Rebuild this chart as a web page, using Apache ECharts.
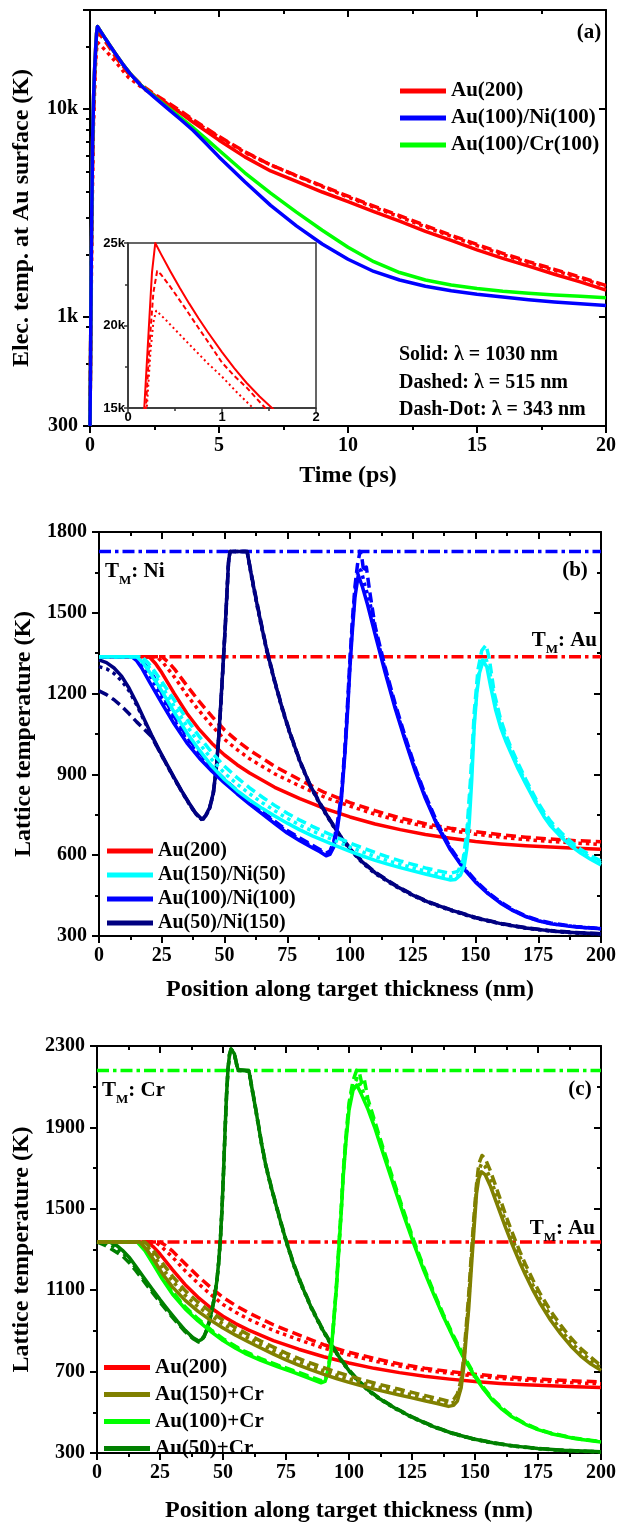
<!DOCTYPE html>
<html><head><meta charset="utf-8">
<script src="https://cdn.jsdelivr.net/npm/echarts@6/dist/echarts.min.js"></script>
<style>html,body{margin:0;padding:0;background:#fff}#c{width:619px;height:1524px}</style>
</head><body><div id="c"></div><script>
// ---------------- Panel (a): electron temperature at Au surface vs time (ps, K) ----------------
const a_au200_1030 = [[0,300],[0.02,600],[0.05,2000],[0.1,7000],[0.14,11500],[0.173,15000],[0.22,19700],[0.255,23200],[0.29,25000],[0.35,24340],[0.45,23290],[0.55,22290],[0.65,21340],[0.75,20440],[0.85,19590],[1.0,18390],[1.13,17420],[1.26,16530],[1.4,15700],[1.56,14850],[1.75,13950],[2,12950],[2.5,11650],[3,10600],[3.5,9600],[4,8650],[5,7100],[6,5900],[7,5050],[8,4500],[9,4000],[10,3600],[11,3220],[12,2900],[13,2590],[14,2340],[15,2110],[16,1920],[17,1760],[18,1610],[19,1480],[20,1350]];
const a_au200_515 = [[0,300],[0.03,900],[0.07,3000],[0.12,8000],[0.19,15000],[0.23,19000],[0.27,22000],[0.31,23300],[0.35,23100],[0.45,22350],[0.56,21450],[0.65,20700],[0.75,19850],[0.85,19020],[1.0,17750],[1.13,16950],[1.26,16250],[1.46,15000],[1.75,14000],[2,13050],[2.5,11800],[3,10800],[3.5,9850],[4,8900],[5,7400],[6,6250],[7,5400],[8,4800],[9,4280],[10,3820],[11,3420],[12,3080],[13,2760],[14,2480],[15,2240],[16,2030],[17,1850],[18,1700],[19,1560],[20,1420]];
const a_au200_343 = [[0,300],[0.03,800],[0.08,3000],[0.13,8000],[0.2,15000],[0.24,18500],[0.27,20200],[0.3,20900],[0.4,20350],[0.56,19400],[0.73,18400],[0.85,17700],[1.0,16900],[1.15,16000],[1.33,15000],[1.5,14200],[1.75,13450],[2,12750],[2.5,11600],[3,10650],[3.5,9700],[4,8780],[5,7350],[6,6200],[7,5400],[8,4780],[9,4250],[10,3780],[11,3380],[12,3040],[13,2720],[14,2450],[15,2210],[16,2000],[17,1830],[18,1680],[19,1540],[20,1410]];
const a_auNi_1030 = [[0,300],[0.02,600],[0.05,2000],[0.1,7000],[0.14,11500],[0.173,15000],[0.22,19700],[0.255,23200],[0.29,25000],[0.35,24340],[0.45,23290],[0.55,22290],[0.65,21340],[0.75,20440],[0.85,19590],[1.0,18390],[1.26,16530],[1.56,14800],[2,12900],[2.5,11400],[3,10100],[3.5,8950],[4,7900],[4.5,6850],[5,5900],[6,4480],[7,3450],[8,2750],[9,2250],[10,1900],[11,1660],[12,1510],[13,1410],[14,1340],[15,1290],[16,1250],[17,1215],[18,1185],[19,1160],[20,1140]];
const a_auCr_1030 = [[0,300],[0.02,600],[0.05,2000],[0.1,7000],[0.14,11500],[0.173,15000],[0.22,19700],[0.255,23200],[0.29,25000],[0.35,24340],[0.45,23290],[0.55,22290],[0.65,21340],[0.75,20440],[0.85,19590],[1.0,18390],[1.26,16530],[1.56,14820],[2,12950],[2.5,11500],[3,10250],[3.5,9150],[4,8150],[4.5,7200],[5,6350],[6,4950],[7,3950],[8,3200],[9,2620],[10,2170],[11,1850],[12,1640],[13,1510],[14,1430],[15,1375],[16,1335],[17,1305],[18,1280],[19,1260],[20,1240]];
const a_yMajorLabels = {300:'300', 1000:'1k', 10000:'10k'};
const a_yMinorTicks = [600,900,2000,3000,4000,5000,6000,7000,8000,9000,20000];

// ---------------- melting temperatures (K) ----------------
const TM_AU = 1337, TM_NI = 1728, TM_CR = 2180;

// ---------------- Panels (b), (c): lattice temperature vs position (nm, K) ----------------
const au200_1030 = [[0,1337],[20,1337],[22.5,1312],[25,1278],[30,1200],[35,1127],[40,1066],[45,1015],[50,972],[55,936],[60,905],[70,852],[80,810],[90,773],[100,742],[110,716],[120,695],[130,677],[140,663],[150,651],[160,642],[170,635],[180,630],[190,626],[200,622]];
const au200_515 = [[0,1337],[25,1337],[27.5,1318],[30,1292],[35,1230],[40,1170],[45,1115],[50,1065],[55,1025],[60,990],[70,930],[80,880],[90,832],[100,795],[110,765],[120,738],[130,717],[140,700],[150,687],[160,676],[170,667],[180,660],[190,654],[200,650]];
const au200_343 = [[0,1337],[23,1337],[25.5,1315],[30,1262],[35,1195],[40,1135],[45,1080],[50,1030],[55,992],[60,958],[70,902],[80,857],[90,815],[100,782],[110,752],[120,727],[130,707],[140,692],[150,678],[160,667],[170,658],[180,651],[190,645],[200,640]];

const b_au150ni50_1030 = [[0,1337],[15,1337],[17.5,1315],[20,1282],[25,1210],[30,1130],[35,1055],[40,990],[45,930],[50,881],[55,840],[60,805],[65,774],[70,746],[75,719],[80,694],[85,672],[90,652],[95,633],[100,614],[105,597],[110,581],[115,567],[120,554],[125,542],[130,530],[135,519],[138,512],[140,508],[142,510],[144,526],[145.5,560],[146.5,620],[147.5,720],[148.5,880],[149.5,1080],[150.5,1200],[151.6,1277],[153,1320],[154.5,1300],[156,1228],[158,1140],[160,1075],[162,1025],[164,982],[167,920],[170,865],[174,795],[177.3,743],[180,708],[184,668],[188,635],[192,607],[196,584],[200,564]];
const b_au150ni50_515 = [[0,1337],[17,1337],[19.5,1315],[22,1285],[25,1245],[30,1175],[35,1105],[40,1040],[45,980],[50,930],[55,888],[60,850],[65,816],[70,785],[75,756],[80,730],[85,707],[90,686],[95,665],[100,645],[105,627],[110,610],[115,594],[120,579],[125,566],[130,553],[135,542],[140,533],[143,540],[145,580],[146.5,680],[148,880],[149.5,1130],[151,1290],[152.5,1360],[154.2,1380],[155.5,1330],[157.5,1200],[160,1105],[162,1050],[164,1003],[167,940],[170,882],[174,810],[177.3,760],[180,725],[184,685],[188,650],[192,621],[196,598],[200,578]];
const b_au150ni50_343 = [[0,1337],[16,1337],[18.5,1318],[20,1298],[25,1228],[30,1152],[35,1080],[40,1015],[45,955],[50,905],[55,864],[60,828],[65,795],[70,765],[75,737],[80,712],[85,690],[90,670],[95,650],[100,630],[105,612],[110,595],[115,580],[120,566],[125,553],[130,541],[135,530],[140,520],[143,525],[145,565],[146.5,650],[148,850],[149.5,1100],[151,1260],[152.5,1320],[154,1335],[155.5,1290],[157.5,1180],[160,1090],[162,1038],[164,993],[167,930],[170,873],[174,802],[177.3,752],[180,716],[184,676],[188,642],[192,614],[196,590],[200,571]];

const b_au100ni100_1030 = [[0,1337],[13,1337],[15,1322],[17,1295],[20,1245],[25,1165],[30,1087],[35,1017],[40,960],[45,912],[50,868],[55,828],[60,790],[65,753],[70,717],[75,682],[80,654],[85,628],[88,613],[90.5,598],[92,603],[93.5,630],[95,700],[96.5,800],[98,980],[99,1130],[100,1300],[101,1440],[102,1560],[103.3,1640],[105,1595],[107,1530],[110,1420],[114,1278],[118,1145],[122,1025],[126,912],[130,812],[135,705],[140,620],[145,553],[150,500],[155,457],[160,422],[165,394],[170,372],[175,356],[180,345],[190,333],[200,327]];
const b_au100ni100_515 = [[0,1337],[15,1337],[17,1322],[19,1300],[22,1260],[25,1200],[30,1115],[35,1040],[40,980],[45,928],[50,882],[55,840],[60,800],[65,762],[70,726],[75,692],[80,664],[85,637],[88,621],[90.5,608],[92,615],[93.5,650],[95,720],[96.5,820],[98,1000],[99,1160],[100,1330],[101,1480],[102,1600],[103,1680],[104,1728],[104.8,1700],[105.5,1650],[106.5,1670],[108,1570],[110,1450],[114,1298],[118,1162],[122,1040],[126,925],[130,824],[135,715],[140,628],[145,560],[150,506],[155,462],[160,426],[165,397],[170,375],[175,359],[180,348],[190,335],[200,328]];
const b_au100ni100_343 = [[0,1337],[14,1337],[16,1322],[18,1300],[21,1255],[25,1185],[30,1100],[35,1028],[40,970],[45,920],[50,875],[55,834],[60,795],[65,758],[70,721],[75,687],[80,659],[85,632],[88,617],[90.5,603],[92,609],[93.5,640],[95,710],[96.5,810],[98,990],[99,1145],[100,1315],[101,1460],[102,1580],[103.3,1665],[104.5,1655],[106,1600],[108,1535],[110,1435],[114,1288],[118,1153],[122,1032],[126,918],[130,818],[135,710],[140,624],[145,556],[150,503],[155,459],[160,424],[165,395],[170,373],[175,357],[180,346],[190,334],[200,327]];

const b_au50ni150_1030 = [[0,1325],[3,1315],[6,1295],[9,1265],[12,1220],[15,1165],[18,1105],[21,1045],[24,990],[27,938],[30,887],[33,838],[36,792],[38.5,757],[40.7,736],[41.5,737],[42.5,748],[44,775],[45.5,830],[46.7,920],[47.7,1040],[48.6,1175],[49.5,1320],[50.3,1450],[51,1580],[51.6,1690],[52.2,1728],[59,1728],[61,1625],[63,1530],[65,1440],[67,1355],[70,1245],[73,1145],[76,1055],[80,950],[84,862],[88,792],[92,730],[96,672],[100,624],[105,574],[110,535],[118,487],[125,452],[131,427],[140,397],[150,368],[160,346],[170,330],[180,319],[190,312],[200,308]];
const b_au50ni150_515 = [[0,1210],[3,1196],[6,1177],[9,1153],[12,1125],[15,1095],[18,1068],[21,1040],[24,987],[27,936],[30,885],[33,836],[36,790],[38.5,755],[40.7,734],[41.5,735],[42.5,746],[44,772],[45.5,826],[46.7,915],[47.7,1035],[48.6,1170],[49.5,1315],[50.3,1445],[51,1575],[51.6,1685],[52.2,1728],[59,1728],[61,1630],[63,1535],[65,1445],[67,1358],[70,1248],[73,1148],[76,1058],[80,952],[84,864],[88,794],[92,732],[96,674],[100,626],[105,576],[110,537],[118,489],[125,454],[131,428],[140,398],[150,369],[160,347],[170,331],[180,320],[190,313],[200,308]];
const b_au50ni150_343 = [[0,1300],[3,1292],[6,1275],[9,1248],[12,1210],[15,1158],[18,1100],[21,1042],[24,987],[27,935],[30,884],[33,835],[36,789],[38.5,754],[40.7,733],[41.5,734],[42.5,745],[44,772],[45.5,827],[46.7,917],[47.7,1037],[48.6,1172],[49.5,1317],[50.3,1447],[51,1577],[51.6,1688],[52.2,1728],[59,1728],[61,1620],[63,1525],[65,1436],[67,1351],[70,1242],[73,1142],[76,1052],[80,947],[84,859],[88,789],[92,727],[96,669],[100,621],[105,571],[110,532],[118,485],[125,450],[131,425],[140,395],[150,366],[160,345],[170,329],[180,318],[190,311],[200,307]];

const c_au150cr_1030 = [[0,1337],[17,1337],[20,1295],[23,1240],[26,1180],[30,1115],[35,1050],[40,997],[45,953],[50,914],[55,879],[60,847],[65,816],[70,786],[75,758],[80,732],[85,708],[90,686],[95,666],[100,647],[105,630],[110,614],[115,599],[120,585],[125,571],[130,557],[135,543],[139.5,529],[141.5,534],[143,555],[144.5,620],[145.5,720],[146.5,870],[147.5,1010],[148.5,1200],[149.5,1380],[150.6,1575],[151.5,1650],[152.5,1682],[154,1668],[156,1615],[158,1548],[160,1480],[162,1412],[164,1348],[166,1288],[168,1230],[170,1176],[173,1100],[176,1032],[180,952],[184,885],[188,826],[192,776],[196,737],[200,706]];
const c_au150cr_515 = [[0,1337],[19,1337],[22,1300],[25,1250],[28,1200],[30,1168],[35,1098],[40,1042],[45,995],[50,953],[55,916],[60,882],[65,850],[70,820],[75,791],[80,765],[85,741],[90,719],[95,698],[100,679],[105,661],[110,644],[115,628],[120,613],[125,598],[130,583],[135,568],[139.5,555],[141.5,562],[143,590],[144.5,660],[145.5,770],[146.5,920],[147.5,1080],[148.5,1270],[149.5,1450],[150.6,1620],[151.5,1720],[152.8,1762],[154,1748],[156,1690],[158,1620],[160,1548],[162,1475],[164,1408],[166,1345],[168,1285],[170,1228],[173,1150],[176,1080],[180,998],[184,928],[188,866],[192,813],[196,770],[200,728]];
const c_au150cr_343 = [[0,1337],[18,1337],[21,1300],[24,1245],[27,1190],[30,1145],[35,1075],[40,1020],[45,975],[50,934],[55,898],[60,865],[65,833],[70,803],[75,775],[80,749],[85,725],[90,703],[95,682],[100,663],[105,645],[110,629],[115,614],[120,599],[125,585],[130,570],[135,556],[139.5,542],[141.5,548],[143,572],[144.5,640],[145.5,745],[146.5,895],[147.5,1045],[148.5,1235],[149.5,1415],[150.6,1600],[151.5,1690],[152.6,1722],[154,1708],[156,1652],[158,1584],[160,1514],[162,1443],[164,1378],[166,1316],[168,1258],[170,1202],[173,1125],[176,1056],[180,975],[184,906],[188,846],[192,795],[196,754],[200,717]];

const c_au100cr_1030 = [[0,1337],[16,1337],[19,1295],[22,1235],[25.9,1155],[30,1080],[35,1008],[40,950],[45.6,893],[50,853],[55,815],[58.7,790],[65,755],[71.8,723],[78,696],[84,668],[88.9,645],[90.5,652],[91.5,690],[92.7,780],[93.8,920],[95,1110],[96.1,1329],[97,1500],[97.7,1657],[98.8,1830],[100,1985],[101.6,2083],[103.1,2108],[105,2060],[107.5,1990],[110.1,1903],[114,1755],[117.9,1608],[121.8,1465],[125.7,1329],[129.6,1200],[133.5,1083],[137.4,972],[141.3,870],[145.2,775],[149.1,692],[153,620],[156.9,560],[160.8,514],[164.6,478],[170,441],[175,415],[180.2,395],[190,370],[200,354]];
const c_au100cr_515 = [[0,1337],[17,1337],[20,1295],[23,1235],[25.9,1170],[30,1092],[35,1018],[40,960],[45.6,902],[50,862],[55,824],[58.7,799],[65,764],[71.8,732],[78,705],[84,678],[88.9,655],[90.5,662],[91.5,700],[92.7,790],[93.8,930],[95,1120],[96.1,1340],[97,1520],[97.7,1680],[98.8,1860],[100,2020],[101.6,2130],[103,2180],[104,2175],[105,2120],[106,2140],[107.5,2040],[110.1,1935],[114,1780],[117.9,1630],[121.8,1485],[125.7,1345],[129.6,1215],[133.5,1095],[137.4,982],[141.3,880],[145.2,785],[149.1,700],[153,628],[156.9,566],[160.8,521],[164.6,482],[170,444],[175,418],[180.2,398],[190,372],[200,356]];
const c_au100cr_343 = [[0,1337],[16.5,1337],[19.5,1295],[22.5,1235],[25.9,1162],[30,1086],[35,1013],[40,955],[45.6,897],[50,857],[55,820],[58.7,794],[65,760],[71.8,728],[78,700],[84,672],[88.9,650],[90.5,657],[91.5,695],[92.7,785],[93.8,925],[95,1115],[96.1,1335],[97,1510],[97.7,1668],[98.8,1845],[100,2000],[101.6,2105],[103.2,2140],[105,2095],[107.5,2015],[110.1,1920],[114,1768],[117.9,1620],[121.8,1475],[125.7,1337],[129.6,1208],[133.5,1089],[137.4,976],[141.3,875],[145.2,780],[149.1,695],[153,624],[156.9,562],[160.8,518],[164.6,479],[170,442],[175,416],[180.2,396],[190,371],[200,355]];

const c_au50cr_1030 = [[0,1337],[5,1337],[8,1318],[10.1,1296],[13,1258],[15.4,1218],[18.5,1164],[21.9,1106],[25,1054],[28.5,999],[32,946],[35,903],[38,868],[40.3,850],[41.5,858],[42.5,875],[43.5,905],[44.5,945],[45.5,995],[46.5,1060],[47.5,1140],[48.3,1240],[49,1360],[49.6,1500],[50.2,1680],[50.8,1880],[51.4,2060],[52,2190],[52.6,2260],[53.2,2285],[53.7,2290],[54.5,2262],[55.3,2215],[56,2182],[60.3,2177],[61.5,2092],[63,1988],[65.3,1820],[67,1712],[69,1612],[71,1520],[73,1430],[75.1,1340],[78,1228],[81,1130],[85,1015],[88.9,920],[92.8,836],[96.8,758],[100,705],[104,650],[108,605],[112,568],[118,522],[125,476],[133.5,430],[141,397],[149,370],[157,350],[165,335],[175,322],[185,313],[200,306]];
const c_au50cr_515 = [[0,1337],[3,1322],[6,1300],[10.1,1268],[13,1232],[15.4,1196],[18.5,1146],[21.9,1090],[25,1040],[28.5,988],[32,937],[35,896],[38,863],[40.3,846],[41.5,854],[42.5,871],[43.5,901],[44.5,941],[45.5,991],[46.5,1056],[47.5,1136],[48.3,1236],[49,1356],[49.6,1496],[50.2,1676],[50.8,1876],[51.4,2056],[52,2188],[52.6,2258],[53.2,2285],[53.7,2292],[54.5,2266],[55.3,2218],[56,2184],[60.3,2179],[61.5,2096],[63,1992],[65.3,1824],[67,1716],[69,1616],[71,1524],[73,1434],[75.1,1344],[78,1232],[81,1134],[85,1019],[88.9,924],[92.8,839],[96.8,761],[100,708],[104,653],[108,608],[112,570],[118,524],[125,478],[133.5,431],[141,398],[149,371],[157,351],[165,336],[175,322],[185,313],[200,306]];
const c_au50cr_343 = [[0,1337],[4,1330],[7,1312],[10.1,1285],[13,1248],[15.4,1209],[18.5,1156],[21.9,1099],[25,1048],[28.5,994],[32,942],[35,900],[38,866],[40.3,848],[41.5,856],[42.5,873],[43.5,903],[44.5,943],[45.5,993],[46.5,1058],[47.5,1138],[48.3,1238],[49,1358],[49.6,1498],[50.2,1678],[50.8,1878],[51.4,2058],[52,2189],[52.6,2259],[53.2,2283],[53.7,2287],[54.5,2258],[55.3,2212],[56,2180],[60.3,2176],[61.5,2088],[63,1984],[65.3,1816],[67,1708],[69,1608],[71,1516],[73,1426],[75.1,1336],[78,1224],[81,1126],[85,1012],[88.9,917],[92.8,833],[96.8,755],[100,702],[104,647],[108,602],[112,566],[118,520],[125,474],[133.5,428],[141,396],[149,369],[157,349],[165,334],[175,321],[185,312],[200,305]];

// ---------------- styling ----------------
const SERIF = 'Liberation Serif';
const C = {red:'#ff0000', blue:'#0000ff', green:'#00ff00', cyan:'#00ffff', navy:'#000080', olive:'#808000', dgreen:'#008000'};
const DASH = [10,5], DOT = [3.5,4], DASHDOT = [12,4,3.5,4];
const LW = 3.5;

function ln(name, data, color, dash, xi, yi, w) {
  return {type:'line', name, data, xAxisIndex:xi, yAxisIndex:yi, showSymbol:false, symbol:'none',
    smooth:false, silent:true, emphasis:{disabled:true},
    lineStyle:{color, width:w||LW, type:dash||'solid', cap:'butt', join:'round'}, itemStyle:{color}};
}
function tmLine(val, color, xi, yi) {
  return ln('TM'+val, [[0,val],[200,val]], color, DASHDOT, xi, yi, 3.5);
}

const axLine = {show:true, onZero:false, lineStyle:{color:'#000', width:2}};
const lbl = {fontFamily:SERIF, fontWeight:'bold', fontSize:20, color:'#000'};
const nameStyle = {fontFamily:SERIF, fontWeight:'bold', fontSize:24, color:'#000'};
const plain = (v)=>String(v);

function xBottom(grid, min, max, interval, name, gap) {
  return {type:'value', gridIndex:grid, min, max, interval, position:'bottom',
    axisLine:axLine, axisTick:{show:true, inside:false, length:7, lineStyle:{color:'#000', width:2}},
    minorTick:{show:true, splitNumber:2, length:4, lineStyle:{color:'#000', width:2}},
    axisLabel:Object.assign({margin:10, formatter:plain}, lbl), splitLine:{show:false},
    name, nameLocation:'middle', nameGap:gap, nameTextStyle:nameStyle};
}
function xTop(grid, min, max, interval) {
  return {type:'value', gridIndex:grid, min, max, interval, position:'top',
    axisLine:axLine, axisTick:{show:true, inside:true, length:7, lineStyle:{color:'#000', width:2}},
    minorTick:{show:true, splitNumber:2, length:4, lineStyle:{color:'#000', width:2}},
    axisLabel:{show:false}, splitLine:{show:false}};
}
function yLin(grid, min, max, interval, pos, name, gap) {
  const left = pos === 'left';
  return {type:'value', gridIndex:grid, min, max, interval, position:pos,
    axisLine:axLine, axisTick:{show:true, inside:!left, length:7, lineStyle:{color:'#000', width:2}},
    minorTick:{show:true, splitNumber:2, length:4, lineStyle:{color:'#000', width:2}},
    axisLabel:left ? Object.assign({margin:12, formatter:plain}, lbl) : {show:false}, splitLine:{show:false},
    name:left ? name : '', nameLocation:'middle', nameGap:gap, nameTextStyle:nameStyle};
}
function yLog(pos, minor) {
  const left = pos === 'left';
  return {type:'log', logBase:10, gridIndex:0, min:300, max:30000, position:pos,
    axisLine:minor ? {show:false} : axLine,
    axisTick:minor ? {show:true, inside:!left, length:4, lineStyle:{color:'#000', width:2}, customValues:a_yMinorTicks}
                   : {show:true, inside:!left, length:7, lineStyle:{color:'#000', width:2}},
    axisLabel:(left && !minor) ? Object.assign({margin:12, formatter:(v)=>{
        for (const k in a_yMajorLabels) { if (Math.abs(v - (+k)) < 1) return a_yMajorLabels[k]; } return ''; }}, lbl) : {show:false},
    splitLine:{show:false},
    name:(left && !minor) ? 'Elec. temp. at Au surface (K)' : '', nameLocation:'middle', nameGap:56, nameTextStyle:nameStyle};
}

const insetLbl = {fontFamily:'Liberation Sans', fontWeight:'bold', fontSize:13, color:'#000', margin:3};

const option = {
  animation:false,
  backgroundColor:'#fff',
  grid:[
    {left:90, top:10, width:519, height:416},
    {left:128, top:243, width:188, height:165, show:true, backgroundColor:'#fff', borderColor:'#333', borderWidth:1.5},
    {left:99, top:532, width:504, height:404},
    {left:97, top:1046, width:507, height:407}
  ],
  xAxis:[
    xBottom(0, 0, 20, 5, 'Time (ps)', 38),
    xTop(0, 0, 20, 5),
    {type:'value', gridIndex:1, min:0, max:2, interval:1,
      axisLine:{show:true, onZero:false, lineStyle:{color:'#333', width:1.5}},
      axisTick:{show:true, length:4, lineStyle:{color:'#333', width:1.5}},
      minorTick:{show:true, splitNumber:2, length:3, lineStyle:{color:'#333', width:1.5}},
      axisLabel:insetLbl, splitLine:{show:false}},
    xBottom(2, 0, 200, 25, 'Position along target thickness (nm)', 42),
    xTop(2, 0, 200, 25),
    xBottom(3, 0, 200, 25, 'Position along target thickness (nm)', 46),
    xTop(3, 0, 200, 25)
  ],
  yAxis:[
    yLog('left', false), yLog('left', true), yLog('right', false), yLog('right', true),
    {type:'value', gridIndex:1, min:15000, max:25000, interval:5000,
      axisLine:{show:true, onZero:false, lineStyle:{color:'#333', width:1.5}},
      axisTick:{show:true, length:4, lineStyle:{color:'#333', width:1.5}},
      minorTick:{show:true, splitNumber:2, length:3, lineStyle:{color:'#333', width:1.5}},
      axisLabel:Object.assign({formatter:(v)=>(v/1000)+'k'}, insetLbl), splitLine:{show:false}},
    yLin(2, 300, 1800, 300, 'left', 'Lattice temperature (K)', 62),
    yLin(2, 300, 1800, 300, 'right'),
    yLin(3, 300, 2300, 400, 'left', 'Lattice temperature (K)', 60),
    yLin(3, 300, 2300, 400, 'right')
  ],
  legend:[
    {left:395, top:75, orient:'vertical', icon:'rect', itemWidth:46, itemHeight:5, itemGap:5, selectedMode:false,
      textStyle:{fontFamily:SERIF, fontWeight:'bold', fontSize:21, lineHeight:22, color:'#000'},
      data:['Au(200)','Au(100)/Ni(100)','Au(100)/Cr(100)']},
    {left:102, top:836, orient:'vertical', icon:'rect', itemWidth:46, itemHeight:5, itemGap:4, selectedMode:false,
      textStyle:{fontFamily:SERIF, fontWeight:'bold', fontSize:20, lineHeight:20, color:'#000'},
      data:['Au(200)','Au(150)/Ni(50)','Au(100)/Ni(100)','Au(50)/Ni(150)']},
    {left:99, top:1352, orient:'vertical', icon:'rect', itemWidth:46, itemHeight:5, itemGap:6, selectedMode:false,
      textStyle:{fontFamily:SERIF, fontWeight:'bold', fontSize:21, lineHeight:21, color:'#000'},
      data:['Au(200)','Au(150)+Cr','Au(100)+Cr','Au(50)+Cr']}
  ],
  series:[
    // panel (a)
    ln('Au(200) 515', a_au200_515, C.red, DASH, 0, 0),
    ln('Au(200) 343', a_au200_343, C.red, DOT, 0, 0),
    ln('Au(200)', a_au200_1030, C.red, 'solid', 0, 0),
    ln('Au(100)/Cr(100)', a_auCr_1030, C.green, 'solid', 0, 0),
    ln('Au(100)/Ni(100)', a_auNi_1030, C.blue, 'solid', 0, 0),
    // inset
    ln('inset 515', a_au200_515, C.red, [5,3], 2, 4, 2),
    ln('inset 343', a_au200_343, C.red, [2,3], 2, 4, 2),
    ln('inset 1030', a_au200_1030, C.red, 'solid', 2, 4, 2),
    // panel (b)
    tmLine(TM_NI, C.blue, 3, 5),
    tmLine(TM_AU, C.red, 3, 5),
    ln('Au(200) 515b', au200_515, C.red, DASH, 3, 5),
    ln('Au(200) 343b', au200_343, C.red, DOT, 3, 5),
    ln('Au(200)', au200_1030, C.red, 'solid', 3, 5),
    ln('Au(50)/Ni(150) 515', b_au50ni150_515, C.navy, DASH, 3, 5),
    ln('Au(50)/Ni(150) 343', b_au50ni150_343, C.navy, DOT, 3, 5),
    ln('Au(50)/Ni(150)', b_au50ni150_1030, C.navy, 'solid', 3, 5),
    ln('Au(100)/Ni(100) 515', b_au100ni100_515, C.blue, DASH, 3, 5),
    ln('Au(100)/Ni(100) 343', b_au100ni100_343, C.blue, DOT, 3, 5),
    ln('Au(100)/Ni(100)', b_au100ni100_1030, C.blue, 'solid', 3, 5),
    ln('Au(150)/Ni(50) 515', b_au150ni50_515, C.cyan, DASH, 3, 5),
    ln('Au(150)/Ni(50) 343', b_au150ni50_343, C.cyan, DOT, 3, 5),
    ln('Au(150)/Ni(50)', b_au150ni50_1030, C.cyan, 'solid', 3, 5),
    // panel (c)
    tmLine(TM_CR, C.green, 5, 7),
    tmLine(TM_AU, C.red, 5, 7),
    ln('Au(200) 515c', au200_515, C.red, DASH, 5, 7),
    ln('Au(200) 343c', au200_343, C.red, DOT, 5, 7),
    ln('Au(200)', au200_1030, C.red, 'solid', 5, 7),
    ln('Au(50)+Cr 515', c_au50cr_515, C.dgreen, DASH, 5, 7),
    ln('Au(50)+Cr 343', c_au50cr_343, C.dgreen, DOT, 5, 7),
    ln('Au(50)+Cr', c_au50cr_1030, C.dgreen, 'solid', 5, 7),
    ln('Au(100)+Cr 515', c_au100cr_515, C.green, DASH, 5, 7),
    ln('Au(100)+Cr 343', c_au100cr_343, C.green, DOT, 5, 7),
    ln('Au(100)+Cr', c_au100cr_1030, C.green, 'solid', 5, 7),
    ln('Au(150)+Cr 515', c_au150cr_515, C.olive, DASH, 5, 7),
    ln('Au(150)+Cr 343', c_au150cr_343, C.olive, DOT, 5, 7),
    ln('Au(150)+Cr', c_au150cr_1030, C.olive, 'solid', 5, 7)
  ],
  graphic:(function(){
    const f = (s)=>'bold '+s+'px "'+SERIF+'"';
    const txt = (x, y, text, size, align)=>({type:'text', x, y, z:100, silent:true,
      style:{text, font:f(size), fill:'#000', align:align||'left', verticalAlign:'middle'}});
    const tm = (x, y, rest, align)=>({type:'text', x, y, z:100, silent:true,
      style:{text:'{t|T}{s|M}{t|'+rest+'}', align:align||'left', verticalAlign:'middle', fill:'#000',
        rich:{t:{font:f(21), lineHeight:30, verticalAlign:'middle', fill:'#000'},
              s:{font:f(13), verticalAlign:'bottom', fill:'#000'}}}});
    return [
      txt(589, 33, '(a)', 21, 'center'),
      txt(399, 355, 'Solid: λ = 1030 nm', 20),
      txt(399, 383, 'Dashed: λ = 515 nm', 20),
      txt(399, 410, 'Dash-Dot: λ = 343 nm', 20),
      txt(575, 571, '(b)', 21, 'center'),
      tm(105, 572, ': Ni'),
      tm(597, 641, ': Au', 'right'),
      txt(580, 1090, '(c)', 21, 'center'),
      tm(102, 1091, ': Cr'),
      tm(595, 1229, ': Au', 'right')
    ];
  })()
};

const chart = echarts.init(document.getElementById('c'), null, {renderer:'canvas', width:619, height:1524});
chart.setOption(option);
</script></body></html>
